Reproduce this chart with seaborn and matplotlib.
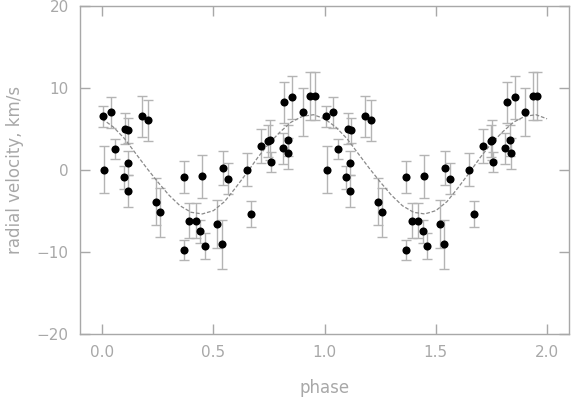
import numpy as np
import pandas as pd
import matplotlib
matplotlib.use('Agg')
import matplotlib.pyplot as plt
import seaborn as sns

# folded radial velocity measurements (one cycle, plotted twice)
phase = [0.005, 0.038, 0.009, 0.058, 0.103, 0.117, 0.114, 0.096, 0.115, 0.181,
         0.208, 0.240, 0.259, 0.368, 0.367, 0.391, 0.422, 0.442, 0.449, 0.460,
         0.517, 0.538, 0.541, 0.565, 0.650, 0.670, 0.714, 0.746, 0.753, 0.757,
         0.813, 0.819, 0.834, 0.837, 0.854, 0.902, 0.936, 0.956]
rv = [6.5, 7.0, 0.0, 2.5, 5.0, 4.8, 0.8, -0.9, -2.6, 6.5,
      6.0, -3.9, -5.2, -0.9, -9.8, -6.2, -6.2, -7.5, -0.8, -9.3,
      -6.6, -9.1, 0.2, -1.1, 0.0, -5.4, 2.9, 3.5, 3.6, 0.9,
      2.6, 8.2, 3.6, 2.0, 8.8, 7.0, 9.0, 9.0]
rv_err = [1.3, 1.9, 2.9, 1.2, 1.9, 1.5, 1.5, 1.4, 2.0, 2.5,
          2.5, 2.9, 3.0, 1.9, 1.2, 2.1, 2.1, 1.4, 2.6, 1.6,
          2.9, 3.0, 2.1, 1.9, 2.0, 1.6, 2.1, 2.0, 2.4, 1.2,
          1.9, 2.5, 1.9, 1.9, 2.6, 2.9, 2.9, 2.9]

# fitted orbit curve (one cycle)
curve_phase = [0.00, 0.05, 0.10, 0.15, 0.20, 0.25, 0.30, 0.35, 0.40, 0.45, 0.50,
               0.55, 0.60, 0.65, 0.70, 0.75, 0.80, 0.85, 0.90, 0.95, 1.00]
curve_rv = [6.2, 5.2, 3.8, 2.0, 0.2, -1.5, -3.1, -4.4, -5.2, -5.4, -5.0,
            -3.9, -2.2, -0.4, 1.5, 3.2, 4.6, 5.8, 6.5, 6.7, 6.2]

df = pd.DataFrame({'phase': phase, 'rv': rv, 'err': rv_err})
df = pd.concat([df, df.assign(phase=df['phase'] + 1)], ignore_index=True)
cv = pd.DataFrame({'phase': curve_phase, 'rv': curve_rv})
cv = pd.concat([cv, cv.iloc[1:].assign(phase=cv['phase'].iloc[1:] + 1)], ignore_index=True)

sns.set_style('ticks')
grey = '#a8a8a8'
plt.rcParams['font.family'] = ['DejaVu Sans']

fig = plt.figure(figsize=(5.71, 4.03), dpi=100)
ax = fig.add_axes([0.140, 0.172, 0.857, 0.814])

ax.errorbar(df['phase'], df['rv'], yerr=df['err'], fmt='none', ecolor='#b4b4b4',
            elinewidth=1.0, capsize=3.6, capthick=1.0, zorder=1)
sns.lineplot(data=cv, x='phase', y='rv', ax=ax, color='#8a8a8a', lw=0.9,
             linestyle=(0, (3, 1.5)), sort=False, zorder=2)
sns.scatterplot(data=df, x='phase', y='rv', ax=ax, color='black', s=34,
                edgecolor='black', linewidth=0, zorder=3)

ax.set_xlim(-0.1, 2.1)
ax.set_ylim(-20, 20)
ax.set_xticks([0.0, 0.5, 1.0, 1.5, 2.0])
ax.set_xticklabels(['0.0', '0.5', '1.0', '1.5', '2.0'])
ax.set_yticks([-20, -10, 0, 10, 20])
ax.set_yticklabels(['\u221220', '\u221210', '0', '10', '20'])
ax.tick_params(direction='in', length=7, width=1, color=grey, labelcolor=grey,
               labelsize=11, top=True, right=True, pad=8)
for s in ax.spines.values():
    s.set_color(grey)
    s.set_linewidth(1)

ax.set_xlabel('phase', color=grey, fontsize=12, labelpad=14)
ax.set_ylabel('radial velocity, km/s', color=grey, fontsize=12, labelpad=9)

fig.savefig('out.png', dpi=100)
